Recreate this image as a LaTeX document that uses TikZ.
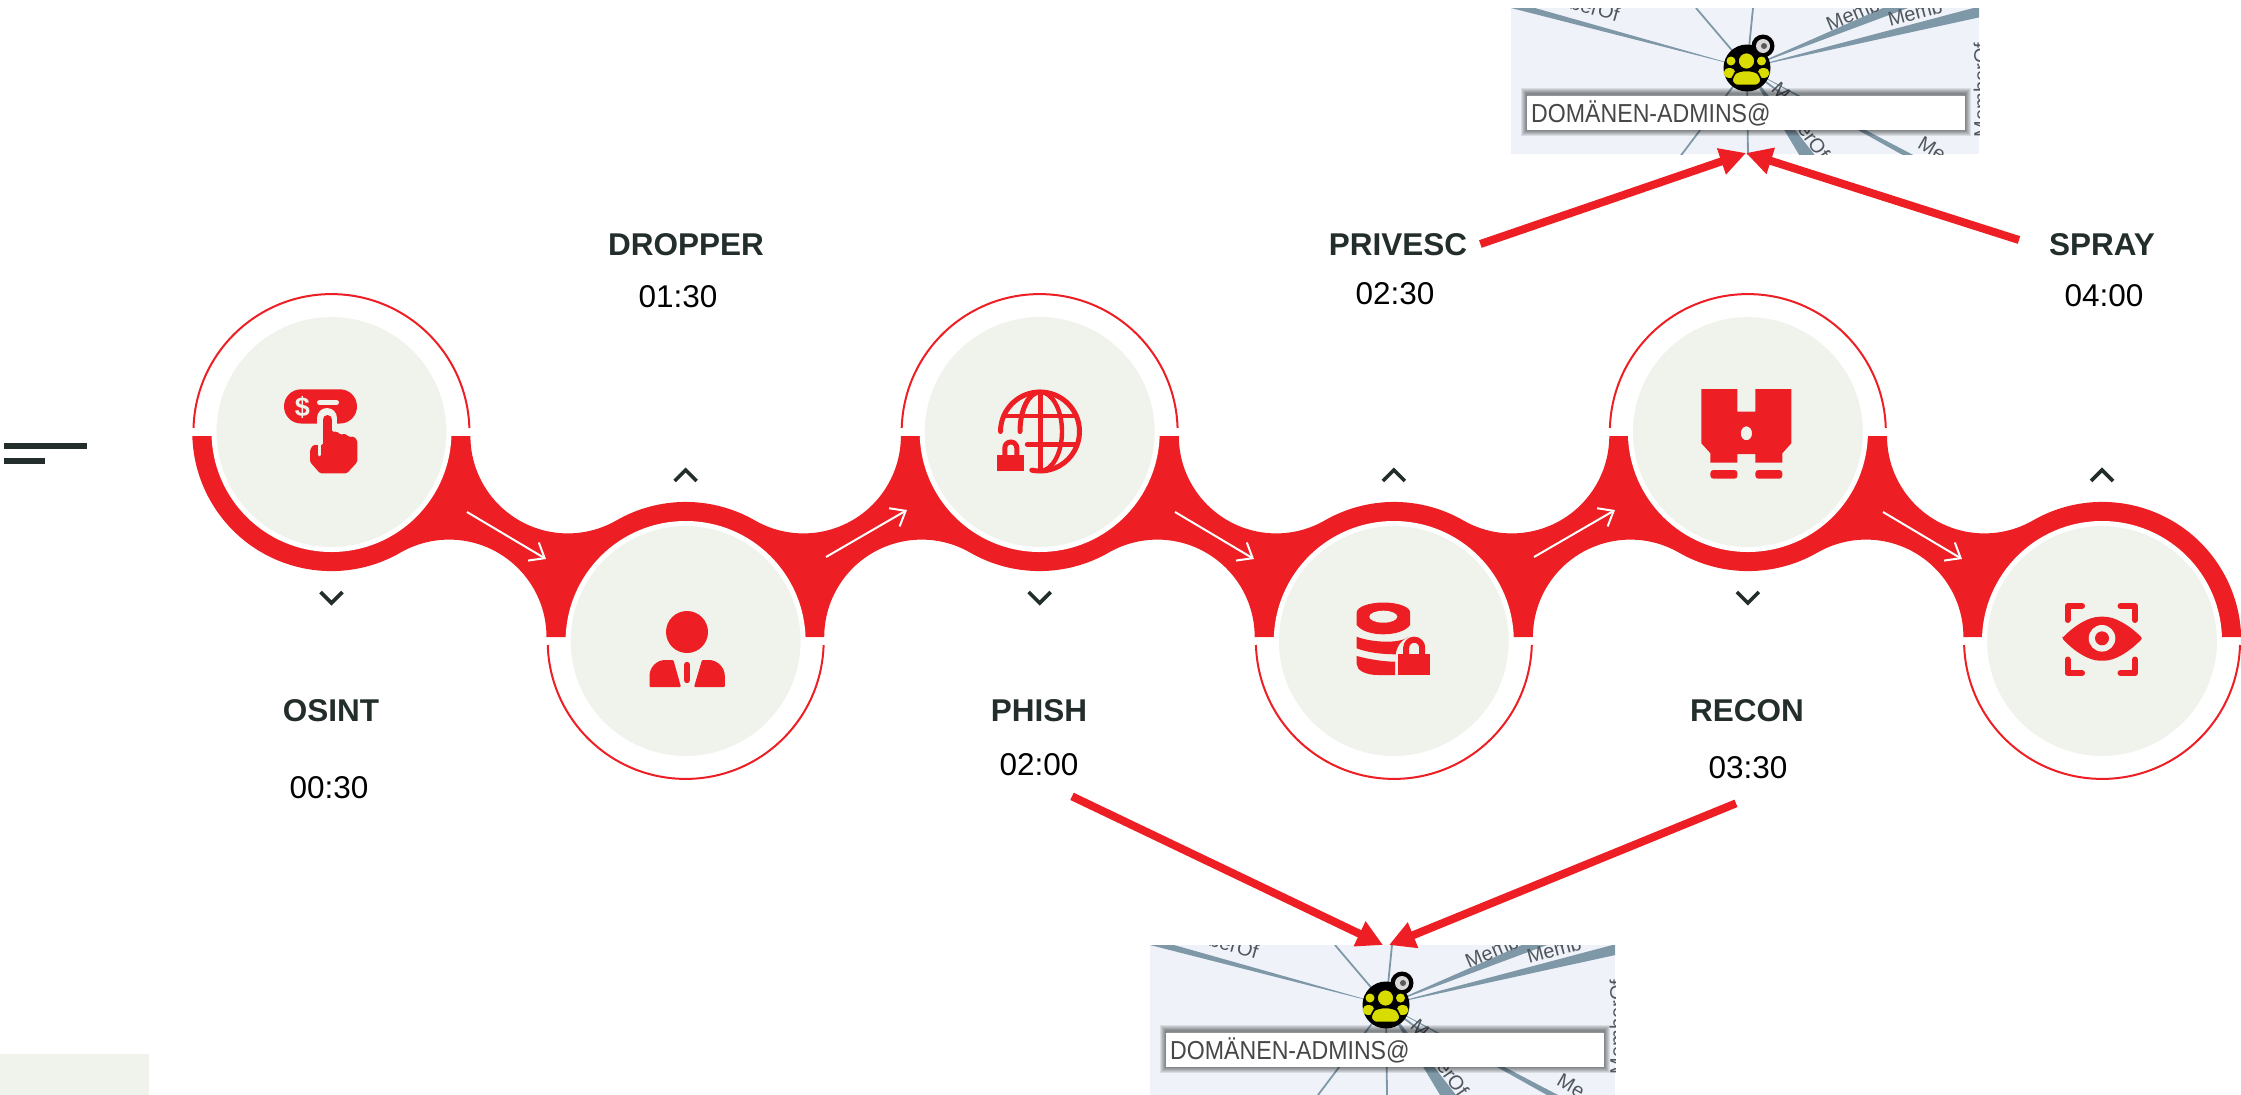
\documentclass[tikz,border=0pt]{standalone}
\usepackage{fontspec}
\setmainfont{Liberation Sans}
\usetikzlibrary{arrows.meta}

\definecolor{bandred}{HTML}{ED1F24}
\definecolor{panelgray}{HTML}{F0F3EC}
\definecolor{inkdark}{HTML}{232E2C}
\definecolor{shotblue}{HTML}{EFF3F9}
\definecolor{linkslate}{HTML}{7F98A8}
\definecolor{shotink}{HTML}{4F565C}
\definecolor{groupyellow}{HTML}{D9DC00}

\tikzset{
  disc/.style={circle,fill=panelgray,draw=white,line width=5pt,minimum size=235pt,inner sep=0pt},
  thinring/.style={bandred,line width=2pt},
  chevron/.style={inkdark,line width=3.6pt,miter limit=4},
  flowarrow/.style={white,line width=2pt,-{Straight Barb[length=13pt,width=21pt,line width=2pt]}},
  bigarrow/.style={bandred,line width=8pt,-{Triangle[length=26pt,width=26pt]},shorten >=0pt},
  steptitle/.style={font=\fontsize{31.5}{36}\selectfont\bfseries,text=inkdark,inner sep=0pt},
  steptime/.style={font=\fontsize{31.5}{36}\selectfont,text=black,inner sep=0pt},
  shotword/.style={font=\fontsize{20}{24}\selectfont,text=shotink,inner sep=0pt},
  iconline/.style={bandred,line width=5pt,line cap=round},
  pics/adminshot/.style 2 args={code={
    \begin{scope}
      \clip (0,0) rectangle (#1,#2);
      \fill[shotblue] (0,0) rectangle (#1,#2);
      % tapered links
      \foreach \ax/\ay/\bx/\by in {0/0/24/0,372/0/397/0,470/-2/470/9,290/150/306/150,397/150/408/150}
        \fill[linkslate] (236,60) -- (\ax,\ay) -- (\bx,\by) -- cycle;
      % thin links
      \foreach \ax/\ay in {185/0,242/0,237/150,168/150,290/100}
        \draw[linkslate,line width=1.8pt] (236,60) -- (\ax,\ay);
      % words on the links
      \node[shotword,rotate=-16,anchor=east] (wordA) at (108,7) {berOf};
      \node[shotword,rotate=23,anchor=west] (wordB) at (316,17) {Memb};
      \node[shotword,rotate=15,anchor=west] (wordC) at (377,12) {Memb};
      \node[shotword,rotate=90] (wordD) at (#1+2,82) {MemberOf};
      \node[shotword,rotate=-45] (wordE) at (270,84) {M};
      \node[shotword,rotate=-55] (wordF) at (303,133) {erOf};
      \node[shotword,rotate=-30] (wordG) at (421,141) {Me};
      % group badge
      \fill[black] (236,60) circle (23.5pt);
      \fill[black] (252,38) circle (11.5pt);
      \fill[white!85!black] (252,38) circle (7pt);
      \fill[black!65] (253,38) circle (3pt);
      \fill[groupyellow] (220,53) circle (4.5pt) (250.5,53) circle (4.5pt);
      \fill[groupyellow] (218.5,65) ellipse (6pt and 5pt) (252.5,65) ellipse (6pt and 5pt);
      \fill[groupyellow,draw=black,line width=1.6pt] (235.5,53) circle (8.5pt);
      \fill[groupyellow,draw=black,line width=1.6pt,rounded corners=6pt] (221,77.5) -- (221,67) -- (228,62.5) -- (243,62.5) -- (250,67) -- (250,77.5) -- cycle;
      % name label
      \foreach \w in {12,10,8,6,4,2}
        \draw[black,opacity=.09,line width=\w pt] (16,85.5) rectangle (454,122);
      \fill[white] (16,88) rectangle (454,121.7);
      \node[font=\fontsize{26}{30}\selectfont,text=black!72,anchor=west,inner sep=0pt] (adminname) at (20,105) {\scalebox{.89}[1]{DOMÄNEN-ADMINS@}};
    \end{scope}
  }}
}

\begin{document}
\begin{tikzpicture}[x=1pt,y=-1pt]
\useasboundingbox (0,0) rectangle (2241,1095);

% menu bars and corner patch
\fill[inkdark] (4,443) rectangle (87,449);
\fill[inkdark] (4,458) rectangle (45,464);
\fill[panelgray] (0,1054) rectangle (149,1095);

% the wave
\fill[bandred] (192.5,436) -- (470.4,436)
  \foreach \c in {685.6,1393.8} {
    arc[start angle=180,end angle=60.1,radius=97.4]
    arc[start angle=240.1,end angle=299.9,radius=139]
    arc[start angle=119.9,end angle=0,radius=97.4]
    -- (\c+493.2,436)
  }
  arc[start angle=180,end angle=60.1,radius=97.4]
  arc[start angle=240.1,end angle=358.4,radius=139]
  -- (2241,637) -- (1963.4,637)
  \foreach \u in {1747.9,1039.7} {
    arc[start angle=360,end angle=240.1,radius=97.4]
    arc[start angle=60.1,end angle=119.9,radius=139]
    arc[start angle=299.9,end angle=180,radius=97.4]
    -- (\u-493.2,637)
  }
  arc[start angle=360,end angle=240.1,radius=97.4]
  arc[start angle=60.1,end angle=178.4,radius=139]
  -- cycle;

% discs and thin rings
\foreach \i/\x in {1/331.5,3/1039.7,5/1747.9} {
  \node[disc] (step\i) at (\x,432) {};
  \draw[thinring] (\x-138,428) arc[start angle=181.7,end angle=358.3,radius=138];
}
\foreach \i/\x in {2/685.6,4/1393.8,6/2102} {
  \node[disc] (step\i) at (\x,641) {};
  \draw[thinring] (\x+138,645) arc[start angle=1.7,end angle=178.3,radius=138];
}

% chevrons
\foreach \x in {331.5,1039.7,1747.9}
  \draw[chevron] (\x-11,592) -- (\x,603) -- (\x+11,592);
\foreach \x in {685.6,1393.8,2102}
  \draw[chevron] (\x-11,481) -- (\x,470) -- (\x+11,481);

% white arrows on the wave
\foreach \i/\xa/\ya/\xb/\yb in {1/467/512/546/559,2/826/557/907/510,3/1175/512/1254/559,4/1534/557/1615/510,5/1883/512/1962/559} {
  \coordinate (from\i) at (\xa,\ya);
  \coordinate (to\i) at (\xb,\yb);
  \draw[flowarrow] (from\i) -- (to\i);
}

% titles
\foreach \name/\x/\y/\label in {osint/331/711/OSINT,dropper/686/245/DROPPER,phish/1039/711/PHISH,privesc/1398/245/PRIVESC,recon/1747/711/RECON,spray/2102/245/SPRAY}
  \node[steptitle] (\name) at (\x,\y) {\label};
% times
\foreach \name/\x/\y/\label in {osinttime/329/788/00:30,droppertime/678/297/01:30,phishtime/1039/765/02:00,privesctime/1395/294/02:30,recontime/1748/768/03:30,spraytime/2104/296/04:00}
  \node[steptime] (\name) at (\x,\y) {\label};

% icon 1: pay button
\fill[bandred,rounded corners=17pt] (284,389.3) rectangle (357,423.5);
\node[font=\fontsize{27}{30}\selectfont\bfseries,text=panelgray,inner sep=0pt] (dollar) at (302.5,407) {\$};
\draw[panelgray,line width=5pt,line cap=round] (319.5,402.5) -- (336.5,402.5);
\draw[panelgray,line width=20pt,line cap=round] (327,418) -- (327,426);
\fill[bandred,rounded corners=1.5pt] (310,450) -- (313,445) -- (323,445) -- (323,430) -- (332,430) -- (332,432) -- (337,431.5) -- (341,435) -- (345,433.5) -- (349,437) -- (354,436.5) -- (357.3,440.5) -- (357.3,462) -- (347,473.3) -- (320,473.3) -- (310,462) -- cycle;
\draw[bandred,line width=9pt,line cap=round] (327.5,419.5) -- (327.5,440);
\draw[panelgray,line width=2.6pt,line cap=round] (319.5,445) -- (319.5,455);

% icon 2: person
\fill[bandred] (687,632) circle (21pt);
\fill[bandred,rounded corners=1pt] (649.5,687) -- (649.5,677) .. controls (649.5,667) and (657,660) .. (666,660) -- (673.4,660) -- (681,687) -- cycle;
\fill[bandred,rounded corners=1pt] (724.8,687) -- (724.8,677) .. controls (724.8,667) and (717,660) .. (708,660) -- (702,660) -- (694,687) -- cycle;
\draw[bandred,line width=6.4pt,line cap=round] (687,665) -- (687,680);

% icon 3: globe and lock
\draw[iconline] (1000.5,431.5) arc[start angle=180,end angle=462,radius=39.5];
\draw[iconline,line width=4.4pt,line cap=butt] (1003,416) -- (1077,416);
\draw[iconline,line width=4.4pt] (1027,444.5) -- (1077,444.5);
\draw[iconline,line cap=butt] (1040,392) -- (1040,471);
\draw[iconline] (1020,431.5) arc[start angle=180,end angle=270,x radius=20,y radius=39.5];
\draw[iconline,line width=4.4pt] (1040,392) arc[start angle=270,end angle=450,x radius=22,y radius=39.5];
\fill[bandred] (997.3,455) rectangle (1024.3,471);
\draw[bandred,line width=5pt] (1004.8,456) -- (1004.8,448) arc[start angle=180,end angle=360,radius=6] -- (1016.8,456);

% icon 4: database and lock
\fill[bandred] (1356.7,612.5) arc[start angle=180,end angle=360,x radius=26.7,y radius=10] -- (1410,625) .. controls (1406,631) and (1395,634.3) .. (1383.3,634.3) .. controls (1372,634.3) and (1361,631) .. (1356.7,625) -- cycle;
\fill[panelgray] (1383.3,616.7) ellipse (14pt and 6pt);
\fill[bandred] (1356.7,636.7) .. controls (1368,641.5) and (1398,645) .. (1408.5,636.7) .. controls (1402,640) and (1397,645) .. (1395.7,654.3) .. controls (1380,654.3) and (1366,652) .. (1356.7,648.3) -- cycle;
\fill[bandred] (1356.7,656) .. controls (1368,659) and (1382,661.5) .. (1395,661.7) -- (1395,675) -- (1378,675) .. controls (1365,675) and (1356.7,670) .. (1356.7,664) -- cycle;
\fill[bandred] (1397.7,654.3) rectangle (1430,675);
\draw[bandred,line width=6pt] (1406.2,655) -- (1406.2,647.7) arc[start angle=180,end angle=360,radius=8] -- (1422.2,655);

% icon 5: binoculars
\fill[bandred,even odd rule] (1701.4,389) -- (1737.4,389) -- (1737.4,411.7) -- (1755.4,411.7) -- (1755.4,389) -- (1791.3,389) -- (1791.3,443.3) -- (1782.3,453.3) -- (1782.3,462.7) -- (1755.4,462.7) -- (1755.4,454) -- (1737.4,454) -- (1737.4,462.7) -- (1710.4,462.7) -- (1710.4,453.3) -- (1701.4,443.3) -- cycle
  (1746.4,433.3) ellipse (5.7pt and 7pt);
\fill[bandred,rounded corners=3pt] (1710.4,470) rectangle (1737.4,478.7);
\fill[bandred,rounded corners=3pt] (1755.4,470) rectangle (1782.3,478.7);

% icon 6: eye in a frame
\fill[bandred,rounded corners=2pt] (2062,638.3) .. controls (2075,625) and (2089,616.7) .. (2102,616.7) .. controls (2115,616.7) and (2129,625) .. (2142.5,638.3) .. controls (2129,652) and (2115,660.7) .. (2102,660.7) .. controls (2089,660.7) and (2075,652) .. (2062,638.3) -- cycle;
\fill[panelgray] (2102,638.3) circle (13.3pt);
\fill[bandred] (2102,638.3) circle (7pt);
\foreach \ax/\ay/\bx/\by/\cx/\cy in {2067.5/620/2067.5/606/2082/606,2135/620/2135/606/2120.5/606,2067.5/659.5/2067.5/673/2082/673,2135/659.5/2135/673/2120.5/673}
  \draw[bandred,line width=6pt,line cap=round,line join=round] (\ax,\ay) -- (\bx,\by) -- (\cx,\cy);

% screenshots
\pic (shotup) at (1511,8) {adminshot={468}{146}};
\pic (shotdown) at (1150,945) {adminshot={465}{150}};
\coordinate (uptip) at (1746,153);
\coordinate (downtipA) at (1383,945);
\coordinate (downtipB) at (1389,945);

% red arrows
\draw[bigarrow] ([xshift=13pt,yshift=1pt]privesc.east) -- (uptip);
\draw[bigarrow] ([xshift=-30pt,yshift=5pt]spray.west) -- (uptip);
\draw[bigarrow] ([xshift=33pt,yshift=-20pt]phishtime.south) -- (downtipA);
\draw[bigarrow] ([xshift=-12pt,yshift=-24pt]recontime.south) -- (downtipB);

\end{tikzpicture}
\end{document}
